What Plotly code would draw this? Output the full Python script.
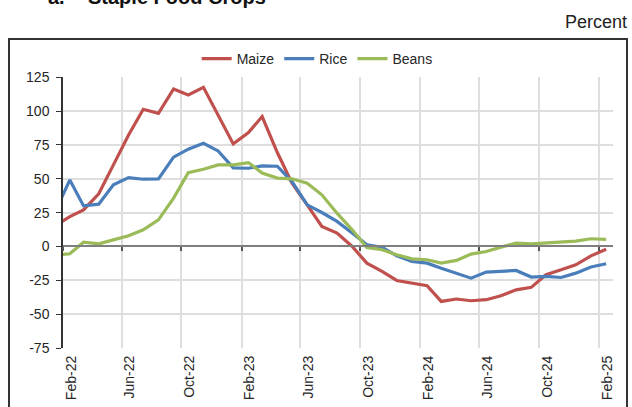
import pandas as pd
import plotly.graph_objects as go

# monthly observations, Jan-22 .. Feb-25 (plotted mid-month)
months = pd.date_range("2022-01-01", "2025-02-01", freq="MS") + pd.Timedelta(days=14)

maize = [15, 22.1, 27, 38.9, 60.3, 82.4, 101.4, 98.4, 116.4, 112, 117.6, 97.2,
         75.8, 84.1, 96, 69.4, 46.8, 30.8, 14.8, 9.9, 0, -12.3, -18.4, -25.1,
         -27, -29, -40.6, -38.8, -40.1, -39.3, -36.4, -32, -30.2, -20.9, -17.2, -13.5,
         -6.9, -2]
rice = [25, 49.2, 30, 31.3, 45.5, 50.9, 49.7, 50, 66, 71.9, 76.3, 70.6,
        58.1, 57.8, 59.6, 59.3, 48, 30.8, 25.1, 18.5, 9.9, 1.3, -0.5, -6.9,
        -11.1, -12.3, -16, -19.7, -23.4, -18.9, -18.4, -17.7, -22.6, -22.1, -22.9, -19.7,
        -15.2, -12.8]
beans = [-6.5, -5.4, 3.2, 2, 4.9, 7.9, 12.3, 19.7, 35.7, 54.6, 57.1, 60.3,
         60.3, 62, 54.2, 50.5, 50, 46.8, 38.2, 24.6, 12.3, -0.7, -2.4, -6.1,
         -9.1, -9.8, -12.3, -10.3, -5.6, -3.7, -0.5, 2.5, 2, 2.5, 3, 4,
         5.7, 5.2]

tick_dates = pd.date_range("2022-02-01", "2025-02-01", freq="4MS")
tick_text = [d.strftime("%b-%y") for d in tick_dates]
x_range = ["2022-02-01", "2025-03-01"]
y_range = [-75, 125]
y_ticks = [-75, -50, -25, 0, 25, 50, 75, 100, 125]
y_tick_text = [str(v) for v in y_ticks]  # plain hyphen, as in the source

series = [("Maize", maize, "#C0504D"), ("Rice", rice, "#4A7EBB"), ("Beans", beans, "#9BBB59")]

FONT = "Liberation Sans, Arial, sans-serif"
INK = "#262626"

# page geometry (pixels); the y-axis domain stops short of the top so the legend sits inside
W, H = 632, 407
L, R, T, B = 63, 19, 40, 59
PW, PH = W - L - R, H - T - B


def px_x(p):
    return (p - L) / PW


def px_y(p):
    return (H - B - p) / PH


y_top = px_y(77.3)
zero_pos = y_top * (0 - y_range[0]) / (y_range[1] - y_range[0])

fig = go.Figure()
for name, vals, color in series:
    fig.add_trace(go.Scatter(x=months, y=vals, name=name, mode="lines",
                             line=dict(color=color, width=3.2)))
# carrier for the zero-line axis with its tick marks
fig.add_trace(go.Scatter(x=[], y=[], xaxis="x2", showlegend=False, hoverinfo="skip"))

fig.update_layout(
    width=W, height=H,
    margin=dict(l=L, r=R, t=T, b=B),
    paper_bgcolor="white", plot_bgcolor="white",
    font=dict(family=FONT, size=14, color=INK),
    showlegend=True,
    legend=dict(orientation="h", x=0.243, xanchor="left", y=px_y(59), yanchor="middle",
                font=dict(size=14), itemwidth=30, bgcolor="rgba(0,0,0,0)"),
    xaxis=dict(type="date", range=x_range, tickvals=tick_dates, ticktext=tick_text,
               tickangle=-90, ticks="", ticklabelshift=8, ticklabelstandoff=4,
               showgrid=True, gridcolor="#dedede", gridwidth=1.5, automargin=False,
               showline=False, zeroline=False, tickfont=dict(size=14, color=INK)),
    xaxis2=dict(type="date", range=x_range, overlaying="x", anchor="free", position=zero_pos,
                tickvals=tick_dates, showticklabels=False, ticks="outside", ticklen=4,
                tickwidth=1.5, tickcolor="#555555", showline=True, linecolor="#7f7f7f",
                linewidth=2, showgrid=False, zeroline=False, automargin=False),
    yaxis=dict(range=y_range, domain=[0, y_top], tickvals=y_ticks, ticktext=y_tick_text,
               ticks="outside", ticklen=5,
               tickcolor="#333333", showline=True, linecolor="#333333", linewidth=1.5,
               showgrid=True, gridcolor="#dedede", gridwidth=1.5, zeroline=False,
               ticklabelstandoff=4, automargin=False, tickfont=dict(size=14, color=INK)),
)

# outer frame around the panel
fig.add_shape(type="rect", xref="paper", yref="paper", x0=px_x(9), x1=px_x(627),
              y0=px_y(420), y1=px_y(39), line=dict(color="#333333", width=2), layer="above")

fig.add_annotation(text="<b>a.</b>", xref="paper", yref="paper", x=px_x(46), y=px_y(10),
                   xanchor="left", yanchor="bottom", showarrow=False,
                   font=dict(size=20, color="#111111"))
fig.add_annotation(text="<b>Staple Food Crops</b>", xref="paper", yref="paper", x=px_x(86),
                   y=px_y(10), xanchor="left", yanchor="bottom", showarrow=False,
                   font=dict(size=20, color="#111111"))
fig.add_annotation(text="Percent", xref="paper", yref="paper", x=px_x(629), y=px_y(22),
                   xanchor="right", yanchor="middle", showarrow=False,
                   font=dict(size=18, color="#222222"))

# the page's default body margin would push the figure off the window
fig.write_html("out.html", config={"displayModeBar": False},
               post_script="document.body.style.margin='0';")
